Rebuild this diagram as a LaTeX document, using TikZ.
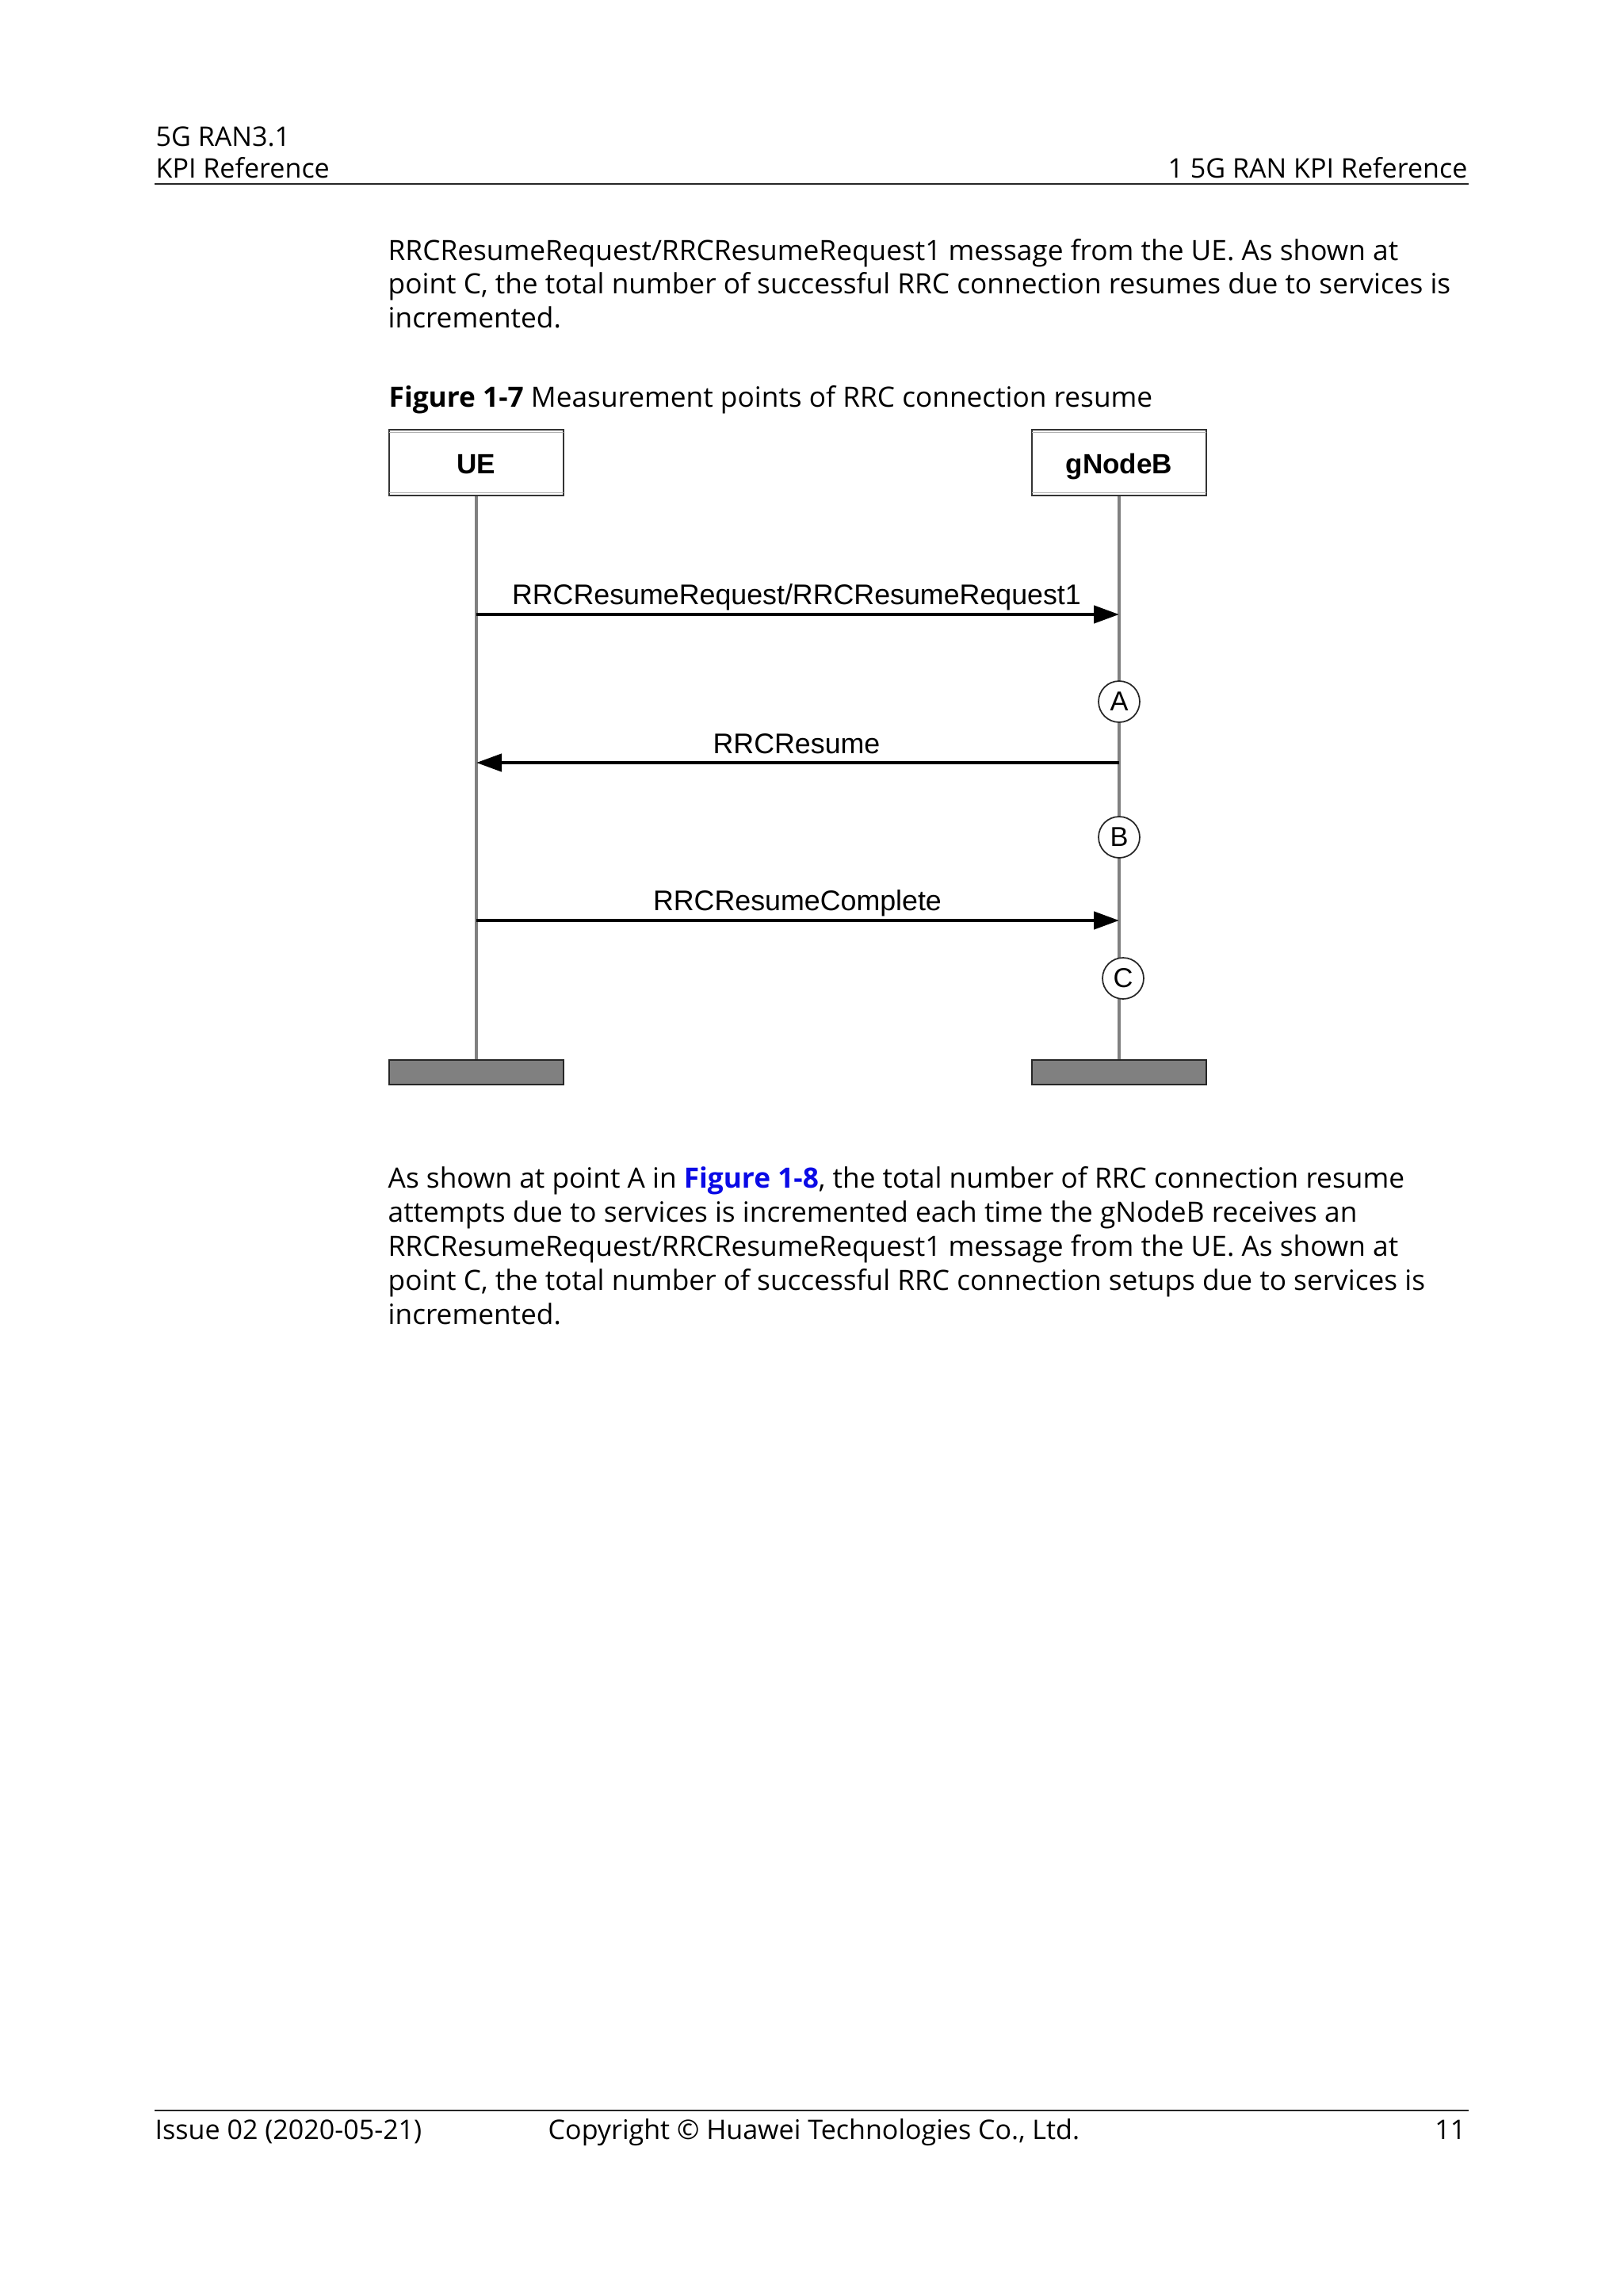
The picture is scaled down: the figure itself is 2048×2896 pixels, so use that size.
\documentclass[tikz,border=0pt]{standalone}
\usepackage{fontspec}
\setmainfont{Open Sans}
\newfontfamily\arial{Liberation Sans}
\usetikzlibrary{arrows.meta}
\definecolor{linkblue}{RGB}{10,10,230}
\begin{document}
\begin{tikzpicture}[x=0.290666pt,y=-0.290666pt,
  hdr/.style={inner sep=0pt,font=\fontsize{9.9}{11}\selectfont},
  bodytxt/.style={inner sep=0pt,anchor=base west,font=\fontsize{10.25}{12}\selectfont},
  entity/.style={draw=black!80,line width=0.6pt,fill=white,minimum width=63.9pt,minimum height=24.1pt,inner sep=0pt,text height=7.4pt,text depth=0pt,font=\arial\bfseries\fontsize{10.2}{12}\selectfont},
  endbar/.style={draw=black!85,line width=0.6pt,fill=black!50,minimum width=63.9pt,minimum height=9pt,inner sep=0pt},
  lifeline/.style={draw=black!50,line width=0.9pt},
  msg/.style={line width=1.25pt,-{Triangle[length=9.3pt,width=6.4pt]}},
  msglabel/.style={inner sep=0pt,anchor=base,font=\arial\fontsize{10.4}{12}\selectfont},
  mpoint/.style={circle,draw=black!85,line width=0.5pt,fill=white,minimum size=15.1pt,inner sep=0pt,font=\arial\fontsize{10}{12}\selectfont},
  pagerule/.style={line width=0.6pt,black!85}
]
\useasboundingbox[fill=white] (0,0) rectangle (2048,2896);

% header
\node[hdr,anchor=base west] (h1) at (196,184) {5G RAN3.1};
\node[hdr,anchor=base west] (h2) at (196,224) {KPI Reference};
\node[hdr,anchor=base east] (h3) at (1852,224) {1 5G RAN KPI Reference};
\draw[pagerule] (195,232) -- (1853,232);

% first paragraph
\node[bodytxt] (p1a) at (489,328) {RRCResumeRequest/RRCResumeRequest1 message from the UE. As shown at};
\node[bodytxt] (p1b) at (489,370) {point C, the total number of successful RRC connection resumes due to services is};
\node[bodytxt] (p1c) at (489,413) {incremented.};

% caption
\node[bodytxt] (cap) at (490,513) {\textbf{Figure 1-7} Measurement points of RRC connection resume};

% entities
\node[entity] (ue) at (601,583.5) {\raisebox{-0.4pt}{UE}};
\node[entity] (gnb) at (1412,583.5) {\raisebox{-0.4pt}{gNodeB}};
\foreach \n in {ue,gnb}{
  \draw[black!30,line width=0.5pt] ([yshift=-1.3pt,xshift=0.4pt]\n.north west) -- ([yshift=-1.3pt,xshift=-0.4pt]\n.north east);
  \draw[black!30,line width=0.5pt] ([yshift=1.3pt,xshift=0.4pt]\n.south west) -- ([yshift=1.3pt,xshift=-0.4pt]\n.south east);
}
\node[endbar] (uebar) at (601,1352.5) {};
\node[endbar] (gnbbar) at (1412,1352.5) {};

% lifelines
\draw[lifeline] (ue.south) -- (uebar.north);
\draw[lifeline] (gnb.south) -- (gnbbar.north);

% messages
\coordinate (m1s) at (601,775);  \coordinate (m1e) at (1412,775);
\coordinate (m2s) at (1412,962); \coordinate (m2e) at (601,962);
\coordinate (m3s) at (601,1161); \coordinate (m3e) at (1412,1161);
\draw[msg] (m1s) -- (m1e);
\draw[msg] (m2s) -- (m2e);
\draw[msg] (m3s) -- (m3e);
\node[msglabel] (l1) at (1005,762) {RRCResumeRequest/RRCResumeRequest1};
\node[msglabel] (l2) at (1005,950) {RRCResume};
\node[msglabel] (l3) at (1006,1148) {RRCResumeComplete};

% measurement points
\node[mpoint] (pa) at (1412,885) {A};
\node[mpoint] (pb) at (1412,1056) {B};
\node[mpoint] (pc) at (1417,1234) {C};

% second paragraph
\node[bodytxt] (p2a) at (489,1498) {As shown at point A in \textcolor{linkblue}{\textbf{Figure 1-8}}, the total number of RRC connection resume};
\node[bodytxt] (p2b) at (489,1541) {attempts due to services is incremented each time the gNodeB receives an};
\node[bodytxt] (p2c) at (489,1584) {RRCResumeRequest/RRCResumeRequest1 message from the UE. As shown at};
\node[bodytxt] (p2d) at (489,1627) {point C, the total number of successful RRC connection setups due to services is};
\node[bodytxt] (p2e) at (489,1670) {incremented.};

% footer
\draw[pagerule] (195,2662) -- (1853,2662);
\node[hdr,anchor=base west] (f1) at (195,2698) {Issue 02 (2020-05-21)};
\node[hdr,anchor=base west] (f2) at (691,2698) {Copyright \textcopyright{} Huawei Technologies Co., Ltd.};
\node[hdr,anchor=base east] (f3) at (1850,2698) {11};
\end{tikzpicture}
\end{document}
